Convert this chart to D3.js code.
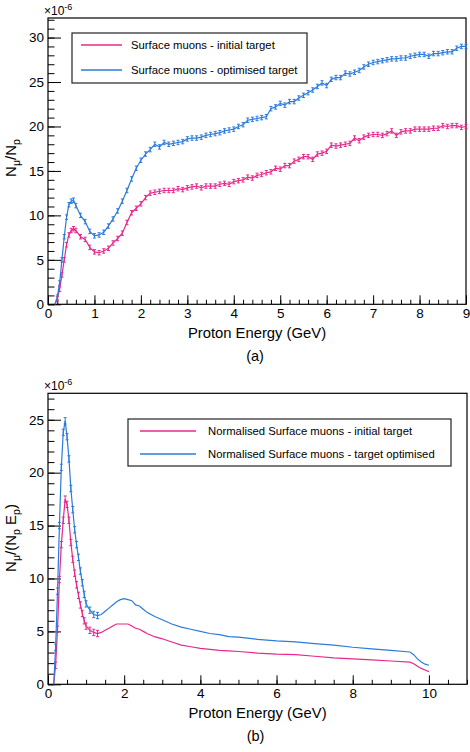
<html lang="en">
<head>
<meta charset="utf-8">
<title>Surface muons vs proton energy</title>
<script src="https://cdn.jsdelivr.net/npm/d3@7"></script>
<style>
  body { margin: 0; background: #fff; }
  svg { font-family: "Liberation Sans", Arial, sans-serif; }
  .tick text { font-size: 13.5px; fill: #000; }
</style>
</head>
<body>
<script>
// ---- data (a) ----
var energyA = [0.15, 0.2, 0.25, 0.3, 0.35, 0.4, 0.45, 0.5, 0.55, 0.6,
  0.7, 0.8, 0.9,
  1.0, 1.1, 1.2, 1.3, 1.4, 1.5, 1.6, 1.7, 1.8, 1.9,
  2.0, 2.1, 2.2, 2.3, 2.4, 2.5, 2.6, 2.7, 2.8, 2.9,
  3.0, 3.1, 3.2, 3.3, 3.4, 3.5, 3.6, 3.7, 3.8, 3.9,
  4.0, 4.1, 4.2, 4.3, 4.4, 4.5, 4.6, 4.7, 4.8, 4.9,
  5.0, 5.1, 5.2, 5.3, 5.4, 5.5, 5.6, 5.7, 5.8, 5.9,
  6.0, 6.1, 6.2, 6.3, 6.4, 6.5, 6.6, 6.7, 6.8, 6.9,
  7.0, 7.1, 7.2, 7.3, 7.4, 7.5, 7.6, 7.7, 7.8, 7.9,
  8.0, 8.1, 8.2, 8.3, 8.4, 8.5, 8.6, 8.7, 8.8, 8.9,
  9.0];
var initialA = [0.0, 0.6, 1.7, 3.3, 5.0, 6.7, 7.8, 8.3, 8.5, 8.3,
  7.6, 7.3, 6.4,
  5.9, 5.8, 6.0, 6.3, 6.9, 7.4, 8.0, 9.2, 10.3, 10.8,
  11.3, 12.0, 12.5, 12.6, 12.7, 12.8, 12.8, 12.8, 13.0, 12.9,
  13.1, 13.2, 13.3, 13.1, 13.3, 13.3, 13.3, 13.5, 13.6, 13.5,
  13.8, 13.9, 14.0, 14.3, 14.2, 14.5, 14.6, 14.8, 14.9, 15.3,
  15.2, 15.6, 15.6, 16.1, 16.3, 16.6, 16.6, 16.3, 16.9, 17.0,
  17.2, 17.9, 17.8, 17.9, 18.0, 18.1, 18.7, 18.4, 18.8, 19.0,
  19.1, 19.1, 19.0, 19.2, 19.5, 19.0, 19.4, 19.5, 19.5, 19.7,
  19.7, 19.7, 19.7, 19.8, 19.8, 20.1, 20.0, 20.1, 20.1, 19.9,
  20.0];
var optimisedA = [0.0, 0.8, 2.4, 5.0, 7.6, 9.8, 11.2, 11.6, 11.7, 11.1,
  10.0, 9.3, 8.2,
  7.7, 7.8, 8.1, 8.8, 9.6, 10.5, 11.6, 12.8, 14.1, 15.3,
  16.2, 16.9, 17.4, 18.0, 17.7, 18.2, 18.0, 18.1, 18.2, 18.3,
  18.6, 18.7, 18.7, 18.8, 19.0, 19.1, 19.2, 19.3, 19.5, 19.6,
  19.7, 20.0, 20.2, 20.7, 20.8, 20.9, 21.0, 21.1, 22.0, 22.2,
  22.6, 22.4, 22.8, 22.8, 23.2, 23.5, 23.8, 24.1, 24.5, 24.9,
  24.6, 25.3, 25.5, 25.5, 26.0, 25.9, 26.1, 26.3, 26.7, 27.0,
  27.2, 27.3, 27.4, 27.5, 27.6, 27.6, 27.7, 27.7, 27.9, 28.0,
  28.1, 28.1, 27.9, 28.2, 28.2, 28.3, 28.4, 28.4, 28.8, 29.0,
  29.0];

// ---- data (b) ----
var energyB = [0.15, 0.2, 0.25, 0.3, 0.35, 0.4, 0.45, 0.5, 0.55, 0.6, 0.65, 0.7, 0.75,
  0.8, 0.85, 0.9, 0.95, 1.0, 1.1, 1.2, 1.3, 1.4, 1.5, 1.6, 1.7, 1.8, 1.9, 2.0,
  2.1, 2.2, 2.3, 2.4, 2.5, 2.6, 2.8, 3.0, 3.25, 3.5, 3.75, 4.0, 4.25, 4.5, 4.75,
  5.0, 5.5, 6.0, 6.5, 7.0, 7.5, 8.0, 8.5, 9.0, 9.5, 9.6, 9.7, 9.8, 9.9, 10.0];
var initialB = [0.0, 1.8, 5.2, 9.9, 13.2, 15.5, 17.5, 17.0, 15.5, 13.4, 11.8, 10.5, 9.4,
  8.4, 7.5, 6.7, 6.0, 5.5, 5.1, 4.9, 4.8, 4.9, 5.1, 5.3, 5.5, 5.7, 5.7, 5.7,
  5.7, 5.5, 5.3, 5.2, 5.0, 4.8, 4.5, 4.3, 4.0, 3.7, 3.55, 3.4, 3.3, 3.2, 3.15,
  3.1, 2.95, 2.85, 2.8, 2.65, 2.5, 2.4, 2.3, 2.2, 2.1, 1.95, 1.7, 1.5, 1.35, 1.2];
var optimisedB = [0.0, 3.5, 8.8, 15.0, 20.5, 23.8, 24.9, 23.4, 21.3, 18.5, 16.5, 14.6, 13.2,
  12.0, 10.7, 9.6, 8.5, 7.6, 7.0, 6.6, 6.5, 6.6, 6.9, 7.2, 7.5, 7.8, 8.0, 8.1,
  8.0, 7.9, 7.5, 7.4, 7.1, 6.8, 6.4, 6.1, 5.7, 5.4, 5.2, 5.0, 4.8, 4.7, 4.5,
  4.45, 4.25, 4.1, 4.0, 3.85, 3.7, 3.5, 3.35, 3.2, 3.05, 2.8, 2.4, 2.1, 1.9, 1.8];

var xTicksA = [0, 1, 2, 3, 4, 5, 6, 7, 8, 9];
var yTicksA = [0, 5, 10, 15, 20, 25, 30];
var xTicksB = [0, 2, 4, 6, 8, 10];
var yTicksB = [0, 5, 10, 15, 20, 25];

var pink = "#e8288c";
var blue = "#2b7bdb";

var W = 470, H = 752;
var svg = d3.select("body").append("svg")
  .attr("width", W)
  .attr("height", H);

function panel(o) {
  var x = d3.scaleLinear().domain(o.xDomain).range([o.left, o.right]);
  var y = d3.scaleLinear().domain(o.yDomain).range([o.bottom, o.top]);
  var g = svg.append("g");

  // y ticks (inward, left side)
  g.append("g").attr("transform", "translate(" + o.left + ",0)")
    .call(d3.axisRight(y).tickValues(o.yMinor).tickSize(6.5).tickFormat(""))
    .call(function(s) { s.select(".domain").remove(); });
  g.append("g").attr("transform", "translate(" + o.left + ",0)")
    .call(d3.axisRight(y).tickValues(o.yTicks).tickSize(13).tickFormat(""))
    .call(function(s) { s.select(".domain").remove(); });
  g.append("g").attr("transform", "translate(" + (o.left - 1) + ",0)")
    .call(d3.axisLeft(y).tickValues(o.yTicks).tickSize(0).tickPadding(3))
    .call(function(s) { s.select(".domain").remove(); });

  // x ticks (inward, bottom side)
  g.append("g").attr("transform", "translate(0," + o.bottom + ")")
    .call(d3.axisTop(x).tickValues(o.xMinor).tickSize(4.5).tickFormat(""))
    .call(function(s) { s.select(".domain").remove(); });
  g.append("g").attr("transform", "translate(0," + o.bottom + ")")
    .call(d3.axisTop(x).tickValues(o.xTicks).tickSize(9).tickFormat(""))
    .call(function(s) { s.select(".domain").remove(); });
  g.append("g").attr("transform", "translate(0," + o.bottom + ")")
    .call(d3.axisBottom(x).tickValues(o.xTicks).tickSize(0).tickPadding(4))
    .call(function(s) { s.select(".domain").remove(); });

  g.selectAll(".tick line").attr("stroke", "#000").attr("stroke-width", 1);

  // frame
  g.append("rect")
    .attr("x", o.left).attr("y", o.top)
    .attr("width", o.right - o.left).attr("height", o.bottom - o.top)
    .attr("fill", "none").attr("stroke", "#000").attr("stroke-width", 1.2);

  // exponent
  var ex = g.append("text").attr("x", o.left - 4).attr("y", o.top - 3)
    .attr("font-size", 12);
  ex.append("tspan").text("\u00d710");
  ex.append("tspan").attr("dy", -5).attr("font-size", 9).text("-6");

  // series
  o.series.forEach(function(sr) {
    var pts = o.energy.map(function(e, i) { return [e, sr.values[i]]; });
    var line = d3.line()
      .x(function(d) { return x(d[0]); })
      .y(function(d) { return y(d[1]); });
    g.append("path").datum(pts)
      .attr("d", line)
      .attr("fill", "none")
      .attr("stroke", sr.color)
      .attr("stroke-width", 1.2);

    var eb = g.append("g").attr("stroke", sr.color).attr("stroke-width", 1);
    pts.forEach(function(d) {
      if (d[1] <= 0 || d[0] > o.errMaxX) return;
      var cx = x(d[0]);
      var y1 = y(d[1] - o.err), y2 = y(d[1] + o.err);
      eb.append("line").attr("x1", cx).attr("x2", cx).attr("y1", y1).attr("y2", y2);
      eb.append("line").attr("x1", cx - 1.5).attr("x2", cx + 1.5).attr("y1", y1).attr("y2", y1);
      eb.append("line").attr("x1", cx - 1.5).attr("x2", cx + 1.5).attr("y1", y2).attr("y2", y2);
    });
  });

  // legend
  var L = o.legend;
  g.append("rect")
    .attr("x", L.x).attr("y", L.y).attr("width", L.w).attr("height", L.h)
    .attr("fill", "#fff").attr("stroke", "#222").attr("stroke-width", 1.2);
  o.series.forEach(function(sr, i) {
    var ly = L.y + L.first + i * L.step;
    g.append("line")
      .attr("x1", L.x + L.lineX0).attr("x2", L.x + L.lineX1)
      .attr("y1", ly).attr("y2", ly)
      .attr("stroke", sr.color).attr("stroke-width", 1.3);
    g.append("text")
      .attr("x", L.x + L.textX).attr("y", ly + 4)
      .attr("font-size", 11.3)
      .text(sr.label);
  });

  // x title
  g.append("text")
    .attr("x", (o.left + o.right) / 2).attr("y", o.bottom + 34)
    .attr("text-anchor", "middle").attr("font-size", 14.8)
    .text("Proton Energy (GeV)");

  // panel tag
  g.append("text")
    .attr("x", (o.left + o.right) / 2 - 2).attr("y", o.bottom + 57)
    .attr("text-anchor", "middle").attr("font-size", 14.5)
    .text(o.tag);

  // y title
  var yt = g.append("text")
    .attr("transform", "translate(16," + o.yTitleY + ") rotate(-90)")
    .attr("text-anchor", "middle").attr("font-size", 15);
  o.yTitle(yt);
}

panel({
  left: 48, right: 466, top: 18, bottom: 304.3,
  xDomain: [0, 9], yDomain: [0, 32.2],
  xTicks: xTicksA, xMinor: d3.range(0, 9.01, 0.2),
  yTicks: yTicksA, yMinor: d3.range(0, 32.1, 1),
  energy: energyA, err: 0.25, errMaxX: 99,
  series: [
    { values: initialA, color: pink, label: "Surface muons - initial target" },
    { values: optimisedA, color: blue, label: "Surface muons - optimised target" }
  ],
  legend: { x: 72, y: 33, w: 235, h: 50, first: 12, step: 25, lineX0: 9, lineX1: 50, textX: 59 },
  tag: "(a)",
  yTitleY: 158,
  yTitle: function(t) {
    t.append("tspan").text("N");
    t.append("tspan").attr("font-size", 10.5).attr("dy", 4).text("\u03bc");
    t.append("tspan").attr("dy", -4).text("/N");
    t.append("tspan").attr("font-size", 10.5).attr("dy", 4).text("p");
  }
});

panel({
  left: 48, right: 467, top: 393.3, bottom: 684.3,
  xDomain: [0, 11], yDomain: [0, 27.5],
  xTicks: xTicksB, xMinor: d3.range(0, 11.01, 0.5),
  yTicks: yTicksB, yMinor: d3.range(0, 27.1, 1),
  energy: energyB, err: 0.3, errMaxX: 1.3,
  series: [
    { values: initialB, color: pink, label: "Normalised Surface muons - initial target" },
    { values: optimisedB, color: blue, label: "Normalised Surface muons - target optimised" }
  ],
  legend: { x: 128, y: 419, w: 323, h: 47, first: 12, step: 23, lineX0: 12, lineX1: 68, textX: 80 },
  tag: "(b)",
  yTitleY: 538,
  yTitle: function(t) {
    t.append("tspan").text("N");
    t.append("tspan").attr("font-size", 10.5).attr("dy", 4).text("\u03bc");
    t.append("tspan").attr("dy", -4).text("/(N");
    t.append("tspan").attr("font-size", 10.5).attr("dy", 4).text("p");
    t.append("tspan").attr("dy", -4).text(" E");
    t.append("tspan").attr("font-size", 10.5).attr("dy", 4).text("p");
    t.append("tspan").attr("dy", -4).text(")");
  }
});
</script>
</body>
</html>
